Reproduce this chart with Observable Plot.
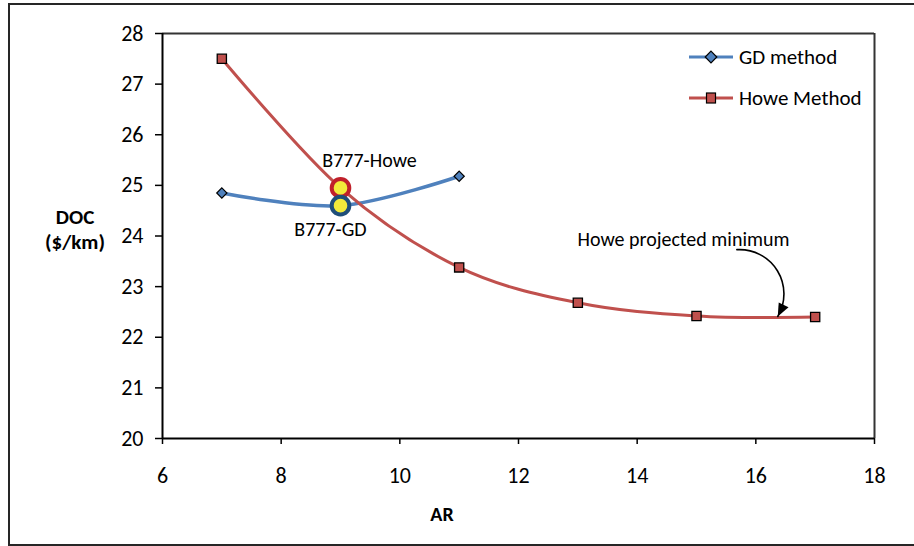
<!DOCTYPE html>
<html>
<head>
<meta charset="utf-8">
<script src="https://cdn.jsdelivr.net/npm/d3@7"></script>
<script src="https://cdn.jsdelivr.net/npm/@observablehq/plot@0.6"></script>
<style>
  html, body { margin: 0; padding: 0; background: #fff; }
  svg { display: block; }
</style>
</head>
<body>
<div id="chart"></div>
<script>
// ---- data ----
const seriesNames = ["GD method", "Howe Method"];
const arGD = [7, 9, 11];
const docGD = [24.85, 24.6, 25.18];
const arHowe = [7, 9, 11, 13, 15, 17];
const docHowe = [27.5, 24.95, 23.38, 22.68, 22.42, 22.4];
const xTicks = [6, 8, 10, 12, 14, 16, 18];
const yTicks = [20, 21, 22, 23, 24, 25, 26, 27, 28];
const highlightLabels = ["B777-Howe", "B777-GD"];
const highlightAR = [9, 9];
const highlightDOC = [24.95, 24.6];
const noteText = "Howe projected minimum";
const noteFrom = [15.68, 23.73];
const noteTo = [16.37, 22.41];

const FONT = "Carlito, Calibri, Lato, 'Open Sans', sans-serif";
const gd = arGD.map((x, i) => ({x, y: docGD[i]}));
const howe = arHowe.map((x, i) => ({x, y: docHowe[i]}));
const hl = highlightLabels.map((label, i) => ({label, x: highlightAR[i], y: highlightDOC[i]}));

const cBlue = "#4F81BD", cRed = "#C0504D";

const chart = Plot.plot({
  width: 914,
  height: 546,
  marginLeft: 162,
  marginRight: 40,
  marginTop: 33,
  marginBottom: 108,
  style: {fontFamily: FONT, fontSize: "22px", color: "#000", background: "#fff"},
  x: {domain: [6, 18], ticks: xTicks},
  y: {domain: [20, 28], ticks: yTicks},
  marks: [
    Plot.ruleY([28], {stroke: "#333", strokeWidth: 2}),
    Plot.ruleX([18], {stroke: "#333", strokeWidth: 2}),
    Plot.axisX({ticks: xTicks, tickSize: 6, tickPadding: 23, label: null, fontSize: 22, stroke: "#000", strokeWidth: 1.5}),
    Plot.axisY({ticks: yTicks, tickSize: 7, tickPadding: 12, label: null, fontSize: 22, stroke: "#000", strokeWidth: 1.5}),
    Plot.ruleX([6], {stroke: "#000", strokeWidth: 2}),
    Plot.ruleY([20], {stroke: "#000", strokeWidth: 2}),
    Plot.line(gd, {x: "x", y: "y", stroke: cBlue, strokeWidth: 3.5, curve: "cardinal"}),
    Plot.line(howe, {x: "x", y: "y", stroke: cRed, strokeWidth: 3, curve: "cardinal"}),
    Plot.dot(gd, {x: "x", y: "y", symbol: "diamond2", r: 4.6, fill: cBlue, stroke: "#000", strokeWidth: 1.2}),
    Plot.dot(howe, {x: "x", y: "y", symbol: "square", r: 5.2, fill: cRed, stroke: "#000", strokeWidth: 1.3}),
    Plot.dot([hl[0]], {x: "x", y: "y", r: 8.8, fill: "#F2EA3A", stroke: "#C0202A", strokeWidth: 4}),
    Plot.dot([hl[1]], {x: "x", y: "y", r: 8.8, fill: "#F2EA3A", stroke: "#1F4E79", strokeWidth: 4}),
    Plot.text([hl[0]], {x: "x", y: "y", text: "label", dx: 29, dy: -27, fontSize: 20, fill: "#000"}),
    Plot.text([hl[1]], {x: "x", y: "y", text: "label", dx: -10, dy: 24, fontSize: 20, fill: "#000"}),
    Plot.text([noteText], {x: noteFrom[0] - 0.9, y: noteFrom[1] + 0.2, text: d => d, fontSize: 20, fill: "#000"}),
    Plot.arrow([{x1: noteFrom[0], y1: noteFrom[1], x2: noteTo[0], y2: noteTo[1]}], {x1: "x1", y1: "y1", x2: "x2", y2: "y2", bend: 62, stroke: "#000", strokeWidth: 1.6, headLength: 0})
  ]
});

const svg = d3.select(chart);
// filled arrowhead at the end of the annotation arrow, oriented along the bent path end
{
  const path = svg.selectAll("path").filter(function() {
    return this.parentNode && this.parentNode.getAttribute("aria-label") === "arrow";
  }).node();
  if (path) {
    const L = path.getTotalLength();
    const p1 = path.getPointAtLength(L), p0 = path.getPointAtLength(L - 6);
    const a = Math.atan2(p1.y - p0.y, p1.x - p0.x);
    const len = 13, w = 5.5;
    const bx = p1.x - len * Math.cos(a), by = p1.y - len * Math.sin(a);
    const nx = -Math.sin(a), ny = Math.cos(a);
    d3.select(path.parentNode).append("path")
      .attr("d", `M${p1.x},${p1.y}L${bx + w * nx},${by + w * ny}L${bx - w * nx},${by - w * ny}Z`)
      .attr("fill", "#000").attr("stroke", "none");
  }
}
// Legend
const legend = svg.append("g").attr("font-family", FONT).attr("font-size", 21).attr("text-anchor", "start");
const legY = [57, 98];
const legColors = [cBlue, cRed];
seriesNames.forEach((name, i) => {
  const g = legend.append("g").attr("transform", `translate(0,${legY[i]})`);
  g.append("line").attr("x1", 689).attr("x2", 733).attr("y1", 0).attr("y2", 0)
    .attr("stroke", legColors[i]).attr("stroke-width", 3.2);
  if (i === 0) {
    g.append("path").attr("d", "M711,-5.8L716.8,0L711,5.8L705.2,0Z")
      .attr("fill", cBlue).attr("stroke", "#000").attr("stroke-width", 1.2);
  } else {
    g.append("rect").attr("x", 706.5).attr("y", -5).attr("width", 9).attr("height", 10)
      .attr("fill", cRed).attr("stroke", "#000").attr("stroke-width", 1.2);
  }
  g.append("text").attr("x", 739).attr("y", 0).attr("dy", "0.35em").text(name);
});
// Axis titles
svg.append("text").attr("x", 442).attr("y", 514).attr("dy", "0.35em")
  .attr("text-anchor", "middle").attr("font-family", FONT).attr("font-size", 20)
  .attr("font-weight", "bold").text("AR");
const yl = svg.append("text").attr("text-anchor", "middle").attr("font-family", FONT)
  .attr("font-size", 21).attr("font-weight", "bold");
yl.append("tspan").attr("x", 75).attr("y", 217).attr("dy", "0.35em").text("DOC");
yl.append("tspan").attr("x", 75).attr("y", 242).attr("dy", "0.35em").text("($/km)");
// Chart area border (left, top, bottom)
svg.append("path").attr("d", "M916,4H9V545H916").attr("fill", "none")
  .attr("stroke", "#262626").attr("stroke-width", 2);

document.getElementById("chart").appendChild(chart);
</script>
</body>
</html>
